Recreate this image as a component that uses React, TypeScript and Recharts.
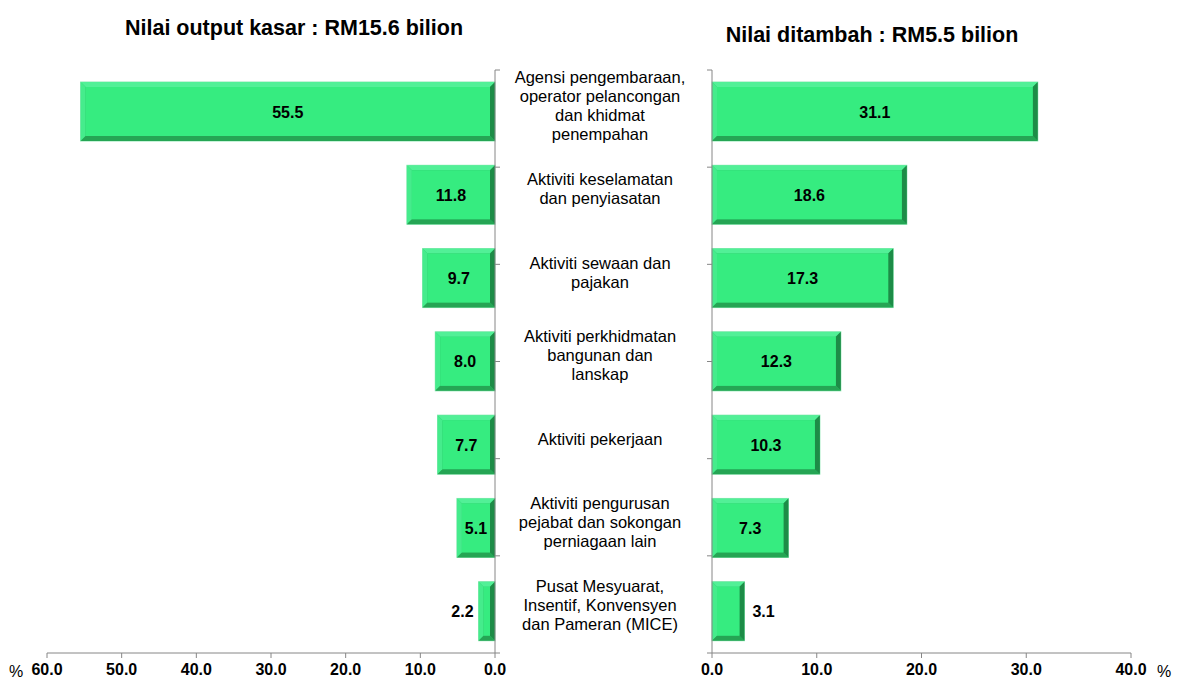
import { BarChart, Bar, XAxis, YAxis, LabelList } from "recharts";

const categories = [
  "Agensi pengembaraan,\noperator pelancongan\ndan khidmat\npenempahan",
  "Aktiviti keselamatan\ndan penyiasatan",
  "Aktiviti sewaan dan\npajakan",
  "Aktiviti perkhidmatan\nbangunan dan\nlanskap",
  "Aktiviti pekerjaan",
  "Aktiviti pengurusan\npejabat dan sokongan\nperniagaan lain",
  "Pusat Mesyuarat,\nInsentif, Konvensyen\ndan Pameran (MICE)",
];
const outputShare = [55.5, 11.8, 9.7, 8.0, 7.7, 5.1, 2.2];
const valueAddedShare = [31.1, 18.6, 17.3, 12.3, 10.3, 7.3, 3.1];
const leftTicks = [0, 10, 20, 30, 40, 50, 60];
const rightTicks = [0, 10, 20, 30, 40];
const bandTicks = [0, 1, 2, 3, 4, 5, 6, 7];

const leftTitle = "Nilai output kasar : RM15.6 bilion";
const rightTitle = "Nilai ditambah : RM5.5 bilion";

const FONT = "'Liberation Sans', Arial, sans-serif";
const AXIS = "#868686";

const leftData = categories.map((name, i) => ({ name, value: outputShare[i] }));
const rightData = categories.map((name, i) => ({ name, value: valueAddedShare[i] }));

const BevelBar = (props: any) => {
  const { x, y, width, height } = props;
  const x0 = Math.min(x, x + width);
  const w = Math.abs(width);
  const h = height;
  const b = Math.min(5, w / 3);
  const x1 = x0 + w;
  const y1 = y + h;
  return (
    <g>
      <rect x={x0} y={y} width={w} height={h} fill="#2bc467" stroke="#8fe8b4" strokeWidth={1} />
      <polygon points={`${x0},${y} ${x1},${y} ${x1 - b},${y + b} ${x0 + b},${y + b}`} fill="#52f097" />
      <polygon points={`${x0},${y} ${x0 + b},${y + b} ${x0 + b},${y1 - b} ${x0},${y1}`} fill="#45ec8c" />
      <polygon points={`${x1},${y} ${x1},${y1} ${x1 - b},${y1 - b} ${x1 - b},${y + b}`} fill="#1d8c47" />
      <polygon points={`${x0},${y1} ${x1},${y1} ${x1 - b},${y1 - b} ${x0 + b},${y1 - b}`} fill="#25a554" />
      <rect x={x0 + b} y={y + b} width={Math.max(0, w - 2 * b)} height={h - 2 * b} fill="#36ec80" />
    </g>
  );
};

const makeLabel = (side: "left" | "right") => (props: any) => {
  const { x, y, width, height, value } = props;
  const x0 = Math.min(x, x + width);
  const w = Math.abs(width);
  const cy = y + height / 2;
  const small = value < 4;
  let tx = x0 + w / 2;
  let anchor: any = "middle";
  if (small) {
    if (side === "left") {
      tx = x0 - 5;
      anchor = "end";
    } else {
      tx = x0 + w + 8;
      anchor = "start";
    }
  }
  return (
    <text x={tx} y={cy} dy={6} textAnchor={anchor} fontFamily={FONT} fontWeight="bold" fontSize={16} fill="#000">
      {Number(value).toFixed(1)}
    </text>
  );
};

// category names sit in the gap between the two charts, measured from the left chart's zero line
const CategoryLabel = (props: any) => {
  const { x, y, width, height, value } = props;
  const base = Math.max(x, x + width);
  const cy = y + height / 2;
  const lines = String(value).split("\n");
  const lh = 19;
  const start = cy - ((lines.length - 1) * lh) / 2 - 6 + 6;
  return (
    <g>
      {lines.map((t: string, i: number) => (
        <text key={i} x={base + 105} y={start + i * lh} textAnchor="middle" fontFamily={FONT} fontSize={16.5} fill="#000">
          {t}
        </text>
      ))}
    </g>
  );
};

const tickStyle = { fontFamily: FONT, fontWeight: "bold" as const, fontSize: 16, fill: "#000" };

export default function App() {
  return (
    <div style={{ position: "absolute", left: 0, top: 0, width: 1179, height: 680, background: "#fff" }}>
      <div style={{ position: "absolute", left: 0, top: 0 }}>
        <BarChart
          width={1179}
          height={680}
          data={leftData}
          layout="vertical"
          margin={{ top: 70, right: 683, bottom: 0, left: 47 }}
          barSize={59}
        >
          <XAxis
            type="number"
            domain={[0, 60]}
            ticks={leftTicks}
            reversed
            height={27}
            tickFormatter={(v: number) => v.toFixed(1)}
            tick={tickStyle}
            tickSize={5}
            tickMargin={6}
            stroke={AXIS}
            interval={0}
          />
          <YAxis
            yAxisId="grid"
            type="number"
            orientation="right"
            domain={[0, 7]}
            ticks={bandTicks}
            width={1}
            tickSize={5}
            tickFormatter={() => ""}
            stroke={AXIS}
            interval={0}
          />
          <YAxis yAxisId="cat" type="category" dataKey="name" orientation="left" width={0} hide />
          <Bar yAxisId="cat" dataKey="value" shape={<BevelBar />} isAnimationActive={false}>
            <LabelList dataKey="value" content={makeLabel("left")} />
            <LabelList dataKey="name" content={CategoryLabel} />
          </Bar>
        </BarChart>
      </div>
      <div style={{ position: "absolute", left: 0, top: 0 }}>
        <BarChart
          width={1179}
          height={680}
          data={rightData}
          layout="vertical"
          margin={{ top: 70, right: 48, bottom: 0, left: 711 }}
          barSize={59}
        >
          <XAxis
            type="number"
            domain={[0, 40]}
            ticks={rightTicks}
            height={27}
            tickFormatter={(v: number) => v.toFixed(1)}
            tick={tickStyle}
            tickSize={5}
            tickMargin={6}
            stroke={AXIS}
            interval={0}
          />
          <YAxis
            yAxisId="grid"
            type="number"
            orientation="left"
            domain={[0, 7]}
            ticks={bandTicks}
            width={1}
            tickSize={5}
            tickFormatter={() => ""}
            stroke={AXIS}
            interval={0}
          />
          <YAxis yAxisId="cat" type="category" dataKey="name" orientation="right" width={0} hide />
          <Bar yAxisId="cat" dataKey="value" shape={<BevelBar />} isAnimationActive={false}>
            <LabelList dataKey="value" content={makeLabel("right")} />
          </Bar>
        </BarChart>
      </div>
      <svg width={1179} height={680} style={{ position: "absolute", left: 0, top: 0, pointerEvents: "none" }}>
        <text x={294} y={35} textAnchor="middle" fontFamily={FONT} fontWeight="bold" fontSize={21.5} fill="#000">
          {leftTitle}
        </text>
        <text x={872} y={42} textAnchor="middle" fontFamily={FONT} fontWeight="bold" fontSize={21.5} fill="#000">
          {rightTitle}
        </text>
        <text x={16} y={677} textAnchor="middle" fontFamily={FONT} fontSize={16} fill="#000">%</text>
        <text x={1164} y={677} textAnchor="middle" fontFamily={FONT} fontSize={16} fill="#000">%</text>
      </svg>
    </div>
  );
}
